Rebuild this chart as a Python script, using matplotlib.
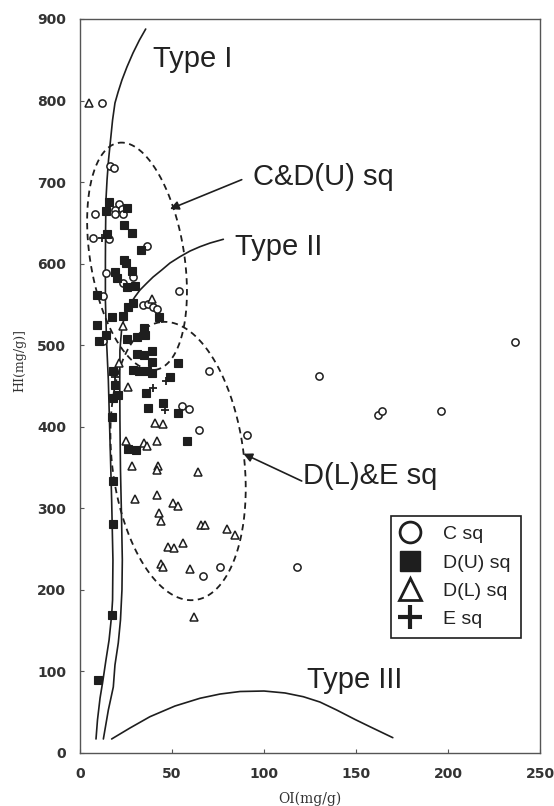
import numpy as np
import matplotlib
matplotlib.use("Agg")
import matplotlib.pyplot as plt
from matplotlib.lines import Line2D

# ---------------- data (OI, HI in mg/g) ----------------
c_oi = [12, 16.3, 18.3, 8.2, 21.2, 19.2, 22.8, 19.0, 23.2, 7.0, 15.9, 36.2,
        14.3, 29.0, 23.6, 54.0, 12.5, 34.4, 37.1, 39.9, 42.0, 12.7, 70.3,
        55.3, 59.2, 64.9, 90.9, 76.1, 67.0, 236.4, 130, 162.1, 164.3, 196.2, 118.1]
c_hi = [797, 720, 717, 661, 673, 666, 667, 661, 661, 631, 630, 622,
        589, 584, 576, 567, 560, 549, 551, 547, 545, 505, 468,
        425, 422, 396, 390, 228, 217, 504, 462, 415, 419, 419, 228]

du_oi = [15.9, 14.1, 25.4, 23.9, 28.3, 14.5, 33.2, 23.9, 25.0, 19.2, 28.1, 20.3,
         29.9, 25.4, 9.1, 29.0, 25.9, 43.1, 17.2, 23.2, 9.1, 34.8, 35.3, 30.8,
         25.4, 14.1, 10.1, 30.8, 35.0, 39.0, 39.0, 53.1, 29.0, 32.3, 36.2, 39.0,
         17.7, 48.9, 19.0, 20.8, 18.1, 35.7, 44.9, 37.1, 53.1, 17.6, 26.3, 30.2,
         58.3, 18.1, 18.1, 17.2, 10.0]
du_hi = [676, 664, 668, 647, 638, 636, 617, 604, 601, 590, 591, 583,
         573, 572, 561, 552, 547, 535, 535, 536, 525, 521, 512, 510,
         508, 512, 505, 489, 488, 493, 480, 478, 470, 469, 468, 466,
         468, 461, 451, 439, 435, 441, 429, 423, 417, 412, 373, 371,
         382, 333, 281, 169, 90]

dl_oi = [5, 39, 23.5, 21.4, 26.3, 40.8, 45.3, 25.0, 42.0, 34.8, 36.2, 28.1,
         42.6, 41.7, 64.0, 29.9, 41.7, 50.7, 53.1, 42.9, 44.0, 65.8, 67.9,
         79.7, 84.2, 48.0, 51.1, 55.8, 43.8, 44.9, 59.8, 62.0]
dl_hi = [797, 557, 523, 478, 449, 405, 404, 383, 382, 380, 376, 352,
         352, 347, 345, 312, 316, 306, 303, 294, 284, 279, 279,
         275, 267, 253, 251, 257, 232, 228, 226, 167]

e_oi = [12.1, 19.0, 46.7, 39.9, 46.2]
e_hi = [631, 461, 456, 447, 420]

# kerogen type reference curves
type1_oi = [35.7, 32.3, 28.8, 25.5, 22.8, 20.7, 19.0, 17.7, 16.6, 15.5, 14.7,
            14.1, 13.9, 13.8, 13.8, 14.4, 15.4, 16.3, 17.2, 17.9, 17.7, 17.2,
            15.8, 14.1, 12.5, 10.9, 9.5, 8.7]
type1_hi = [887.7, 874.2, 858.3, 841.1, 825.2, 810.4, 797.0, 776.1, 751.6, 727.1, 702.8,
            678.0, 641.2, 604.5, 555.4, 506.4, 457.3, 383.8, 310.2, 236.6, 187.6, 169.2,
            138.5, 114.0, 89.5, 67.4, 40.5, 17.2]
type2_oi = [77.9, 70.7, 65.2, 59.8, 54.3, 48.9, 44.4, 39.7, 36.2, 32.6, 29.9,
            26.9, 24.5, 22.6, 21.7, 21.6, 21.7, 22.0, 22.6, 23.0, 22.8, 22.0,
            20.8, 19.0, 18.1, 15.4, 12.7]
type2_hi = [629.9, 625.3, 620.8, 615.5, 608.5, 600.8, 592.2, 583.6, 575.9, 567.7, 559.5,
            549.3, 539.1, 518.6, 494.1, 457.3, 408.3, 347.0, 285.7, 236.6, 199.9, 163.1,
            134.9, 107.9, 80.9, 52.7, 17.2]
type3_oi = [17.2, 27.2, 38.0, 51.6, 65.2, 76.1, 87.0, 100.0, 111.4, 121.4, 130.4,
            139.5, 149.5, 157.6, 170.0]
type3_hi = [17.2, 30.7, 44.5, 57.6, 67.1, 72.3, 75.4, 76.0, 73.6, 69.0, 62.5,
            52.7, 41.1, 32.2, 18.8]

x_ticks = [0, 50, 100, 150, 200, 250]
y_ticks = [0, 100, 200, 300, 400, 500, 600, 700, 800, 900]

# ---------------- figure ----------------
W, H, DPI = 554, 806, 100
fig = plt.figure(figsize=(W / DPI, H / DPI), dpi=DPI)
fig.patch.set_facecolor("white")
ax = fig.add_axes([80 / W, 1 - 753 / H, 460 / W, 734 / H])
ax.set_xlim(0, 250)
ax.set_ylim(0, 900)

ink = "#1e1e1e"

# curves
for xo, yo in [(type1_oi, type1_hi), (type2_oi, type2_hi), (type3_oi, type3_hi)]:
    ax.plot(xo, yo, color=ink, lw=1.2, solid_capstyle="round",
            solid_joinstyle="round", zorder=2)


# dashed ellipses (center in data, semi-axes in points, tilt clockwise from vertical)
def tilted_ellipse(center, a_pt, b_pt, tilt_deg):
    cx, cy = ax.transData.transform(center)
    s = fig.dpi / 72.0
    a, b = a_pt * s, b_pt * s
    th = np.deg2rad(tilt_deg)
    u = np.array([-np.sin(th), np.cos(th)])
    v = np.array([np.cos(th), np.sin(th)])
    t = np.linspace(0, 2 * np.pi, 400)
    px = cx + a * np.cos(t) * u[0] + b * np.sin(t) * v[0]
    py = cy + a * np.cos(t) * u[1] + b * np.sin(t) * v[1]
    d = ax.transData.inverted().transform(np.column_stack([px, py]))
    ax.plot(d[:, 0], d[:, 1], color=ink, lw=1.3, ls=(0, (3.5, 2.5)), zorder=2)


tilted_ellipse((31.0, 609), 82.8, 33.8, 9.3)
tilted_ellipse((53.3, 358), 100.8, 47.5, 7.0)

# scatter series
ms = 5.2
ax.plot(c_oi, c_hi, ls="none", marker="o", ms=ms, mfc="white", mec=ink, mew=1.1, zorder=3)
ax.plot(du_oi, du_hi, ls="none", marker="s", ms=ms, mfc=ink, mec=ink, mew=0.8, zorder=3)
ax.plot(dl_oi, dl_hi, ls="none", marker="^", ms=ms + 0.6, mfc="white", mec=ink, mew=1.1, zorder=3)
ax.plot(e_oi, e_hi, ls="none", marker="+", ms=ms + 1, mec=ink, mew=1.3, zorder=3)

# annotations
tfont = dict(family=["Liberation Sans", "DejaVu Sans"], fontsize=21, color="#222222")
ax.text(39.7, 841.5, "Type I", ha="left", va="baseline", **tfont)
ax.text(84.2, 610.6, "Type II", ha="left", va="baseline", **tfont)
ax.text(94.0, 696, "C&D(U) sq", ha="left", va="baseline", **tfont)
ax.text(121.2, 330.4, "D(L)&E sq", ha="left", va="baseline", **tfont)
ax.text(123.4, 79.7, "Type III", ha="left", va="baseline", **tfont)

arw = dict(arrowstyle="-|>", color=ink, lw=1.2, mutation_scale=13, shrinkA=0, shrinkB=0)
ax.annotate("", xy=(48.9, 667), xytext=(87.9, 703), arrowprops=arw)
ax.annotate("", xy=(88.8, 367), xytext=(120.5, 333.5), arrowprops=arw)

# legend
handles = [
    Line2D([], [], ls="none", marker="o", ms=15, mfc="white", mec=ink, mew=2.0),
    Line2D([], [], ls="none", marker="s", ms=15, mfc=ink, mec=ink),
    Line2D([], [], ls="none", marker="^", ms=16, mfc="white", mec=ink, mew=2.0),
    Line2D([], [], ls="none", marker="+", ms=17, mec=ink, mew=3.0),
]
labels = ["C sq", "D(U) sq", "D(L) sq", "E sq"]
leg = ax.legend(handles, labels, loc="upper left", bbox_to_anchor=(0.676, 0.323),
                prop={"family": ["Liberation Sans", "DejaVu Sans"], "size": 14},
                frameon=True, fancybox=False, framealpha=1, edgecolor=ink,
                borderpad=0.5, labelspacing=0.55, handlelength=1.0,
                handletextpad=1.2, borderaxespad=0)
leg.get_frame().set_linewidth(1.2)
for t in leg.get_texts():
    t.set_color("#222222")

# axes styling
for side in ["left", "bottom", "top", "right"]:
    ax.spines[side].set_color("#555555")
    ax.spines[side].set_linewidth(1.0)
ax.set_xticks(x_ticks)
ax.set_yticks(y_ticks)
ax.set_xticklabels([str(v) for v in x_ticks])
ax.set_yticklabels([str(v) for v in y_ticks])
ax.tick_params(direction="in", length=3, width=0.8, color="#555555", pad=10,
               labelsize=10, labelcolor="#333333")
for lab in ax.get_xticklabels() + ax.get_yticklabels():
    lab.set_fontweight("bold")
    lab.set_family("DejaVu Sans")

ax.set_xlabel("OI(mg/g)", family=["DejaVu Serif"], fontsize=10, color="#333333",
              va="center")
ax.xaxis.set_label_coords(0.5, -0.0625)
ax.set_ylabel("HI(mg/g)]", family=["DejaVu Serif"], fontsize=9, color="#333333",
              va="center")
ax.yaxis.set_label_coords(-0.13, 0.535)

fig.savefig("out.png", dpi=DPI, facecolor="white")
